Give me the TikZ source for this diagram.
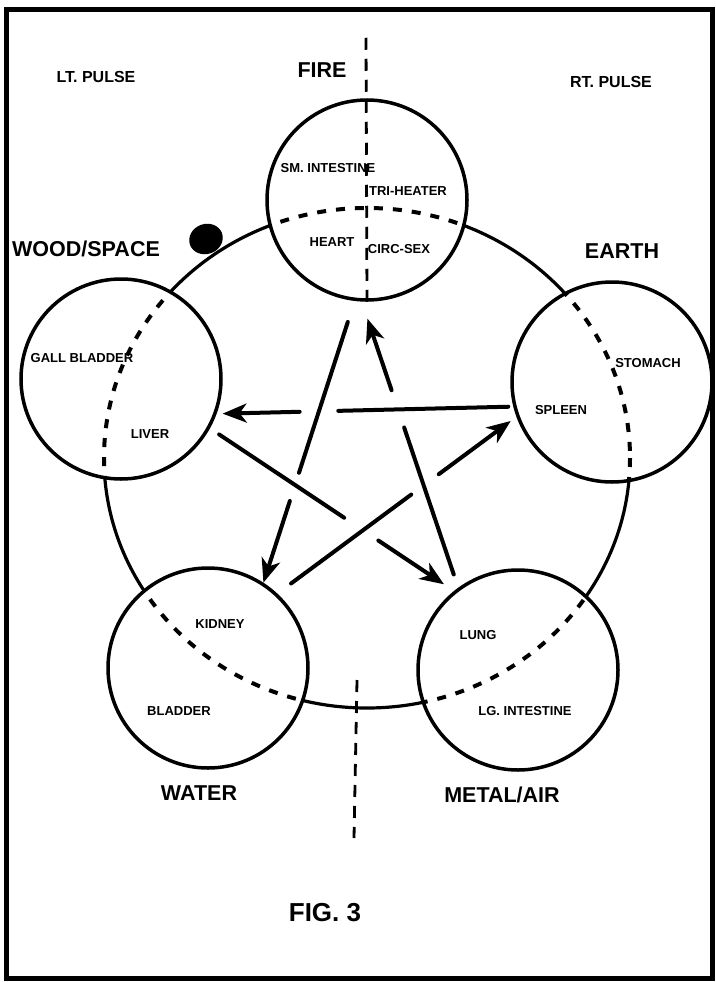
\documentclass[tikz,border=0pt]{standalone}
\usepackage{fontspec}
\setmainfont{Liberation Sans}
\usetikzlibrary{arrows.meta,calc}

\begin{document}
\begin{tikzpicture}[x=1pt,y=-1pt,
  phase/.style={draw, circle, line width=3.5pt, fill=white, minimum size=200pt, inner sep=0pt},
  ring/.style={line width=3.2pt},
  ringdash/.style={line width=4pt, dash pattern=on 9pt off 10pt},
  divider/.style={line width=2.8pt, dash pattern=on 12pt off 9pt},
  link/.style={line width=4pt, line cap=round},
  arrowed/.style={-{Stealth[length=24pt,width=19pt,inset=7pt]}},
  element/.style={font=\fontsize{21.5}{24}\selectfont\bfseries, text depth=0pt},
  organ/.style={font=\fontsize{13}{15}\selectfont\bfseries, text depth=0pt},
  pulse/.style={font=\fontsize{16}{18}\selectfont\bfseries, text depth=0pt}]
  \useasboundingbox (0,0) rectangle (715,982);
  % the ring through the five phases
  \draw[ring] (367,458) ellipse [x radius=263, y radius=250];
  \node[phase] (fire) at (367,200) {};
  \node[phase] (wood) at (121,379) {};
  \node[phase] (earth) at (612,382) {};
  \node[phase] (water) at (208,668) {};
  \node[phase] (metal) at (518,670) {};
  \foreach \p in {fire,wood,earth,water,metal}{
    \begin{scope}
      \clip (\p) circle [radius=99];
      \draw[ringdash] (367,458) ellipse [x radius=263, y radius=250];
    \end{scope}
  }
  % left / right split
  \draw[divider] (fire.south) -- ++(-1,-265);
  \coordinate (cut top) at (357,680);
  \coordinate (cut bottom) at (354,838);
  \draw[divider] (cut top) -- (cut bottom);

  \node[pulse] (lt) at (96,77) {LT. PULSE};
  \node[pulse] (rt) at (611,82) {RT. PULSE};
  \node[element] (fire label) at (322,70) {FIRE};
  \node[element] (wood label) at (86,249) {WOOD/SPACE};
  \node[element] (earth label) at (622,251) {EARTH};
  \node[element] (water label) at (199,793) {WATER};
  \node[element] (metal label) at (502,795) {METAL/AIR};
  \node[font=\fontsize{26}{28}\selectfont\bfseries, text depth=0pt] (caption) at (325,912) {FIG. 3};

  \node[organ] (sm int) at (328,168) {SM. INTESTINE};
  \node[organ] (tri) at (408,191) {TRI-HEATER};
  \node[organ] (heart) at (332,242) {HEART};
  \node[organ] (circ) at (399,249) {CIRC-SEX};
  \node[organ] (gall) at (82,358) {GALL BLADDER};
  \node[organ] (liver) at (150,434) {LIVER};
  \node[organ] (stomach) at (648,363) {STOMACH};
  \node[organ] (spleen) at (561,410) {SPLEEN};
  \node[organ] (kidney) at (220,624) {KIDNEY};
  \node[organ] (bladder) at (179,711) {BLADDER};
  \node[organ] (lung) at (478,635) {LUNG};
  \node[organ] (lg int) at (525,711) {LG. INTESTINE};

  % the star, each line broken where it passes under another
  \draw[link, shorten <=22pt] (fire.-97) -- ($(fire.-97)!.61!(water.57)$);
  \draw[link, arrowed] ($(fire.-97)!.71!(water.57)$) -- (water.57);
  \draw[link, shorten <=14pt] (metal.126) -- ($(metal.126)!.56!(fire.-93)$);
  \draw[link, arrowed, shorten >=18pt] ($(metal.126)!.69!(fire.-93)$) -- (fire.-93);
  \draw[link, shorten <=5pt] (earth.194) -- ($(earth.194)!.59!(wood.-20)$);
  \draw[link, arrowed, shorten >=6pt] ($(earth.194)!.72!(wood.-20)$) -- (wood.-20);
  \draw[link, shorten <=11pt] (wood.-29) -- ($(wood.-29)!.55!(metal.129)$);
  \draw[link, arrowed, shorten >=12pt] ($(wood.-29)!.69!(metal.129)$) -- (metal.129);
  \draw[link, shorten <=17pt] (water.47) -- ($(water.47)!.56!(earth.200)$);
  \draw[link, arrowed, shorten >=7pt] ($(water.47)!.675!(earth.200)$) -- (earth.200);

  \fill[rotate around={20:(206,239)}] (206,239) ellipse [x radius=17, y radius=15];
  \draw[line width=5pt] (6,10) rectangle (712,978);
\end{tikzpicture}
\end{document}
